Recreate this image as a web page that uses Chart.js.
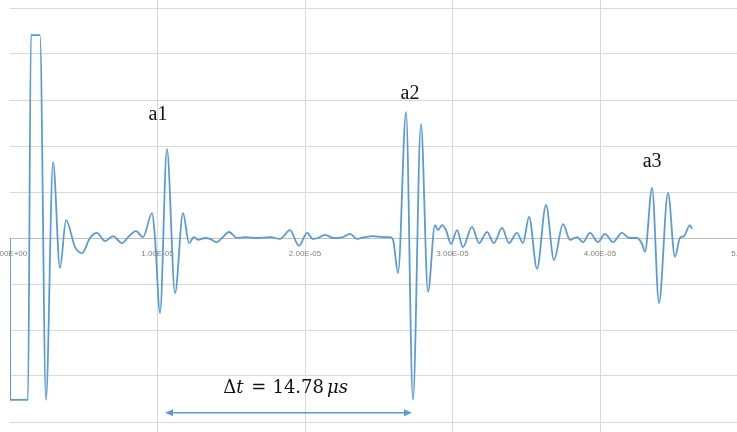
<!DOCTYPE html>
<html>
<head>
<meta charset="utf-8">
<script src="https://cdn.jsdelivr.net/npm/chart.js@4"></script>
<style>
  html, body { margin: 0; padding: 0; background: #ffffff; overflow: hidden; }
  #wrap { position: relative; width: 737px; height: 432px; overflow: hidden; background: #fff; }
  #c { position: absolute; left: -40px; top: -38px; }
</style>
</head>
<body>
<div id="wrap"><canvas id="c" width="985" height="506"></canvas></div>
<script>
// time in microseconds
const timeUs = [0,0.01,1.22,1.42,2.03,2.44,2.92,3.39,3.80,4.41,4.88,5.42,5.90,6.44,6.98,7.59,8.07,8.54,9.02,9.63,9.83,10.17,10.64,11.19,11.73,12.14,12.47,12.75,13.22,13.56,14.03,14.37,14.85,15.39,15.93,16.75,17.63,18.31,18.98,19.59,20.14,20.54,20.88,21.36,21.90,22.58,23.05,23.53,24.07,24.61,25.29,25.76,25.97,26.31,26.85,27.32,27.86,28.34,28.81,29.02,29.29,29.56,29.90,30.31,30.71,31.32,31.80,32.34,32.81,33.36,33.83,34.37,34.78,35.19,35.73,36.34,36.88,37.49,37.97,38.44,38.85,39.32,39.86,40.34,40.88,41.49,41.97,42.51,42.85,43.05,43.53,44.00,44.61,45.08,45.42,45.69,46.10,46.24];
const amplitude = [0,-3.52,-3.52,4.41,4.41,-3.52,1.65,-0.65,0.39,-0.20,-0.33,0,0.11,-0.07,0.04,-0.11,0.04,0.15,0.02,0.54,0,-1.63,1.93,-1.20,0.54,-0.11,0.02,-0.04,0,-0.02,-0.09,0,0.13,0,0.02,0,0.02,-0.02,0.17,-0.17,0.11,-0.02,0,0.07,0,0.02,0.09,-0.02,0.02,0.04,0.02,0.02,-0.04,-0.76,2.74,-3.52,2.48,-1.17,0.28,0.17,0.28,0.17,-0.13,0.17,-0.20,0.24,-0.11,0.13,-0.11,0.22,-0.11,0.11,-0.11,0.46,-0.67,0.72,-0.48,0.30,-0.04,0.02,-0.09,0.11,-0.09,0.09,-0.09,0.11,0,0,-0.13,-0.30,1.09,-1.41,0.98,-0.41,0,0.04,0.28,0.20];

const xTicks = [0,10,20,30,40,50,60];   // µs, shown as seconds
const echoLabels = ['a1','a2','a3'];
const echoLabelT = [10.03, 27.12, 43.53];
const echoLabelY = [2.57, 3.02, 1.54];
const arrowT = [10.51, 27.25];
const arrowY = -3.80;
const deltaText = '14.78';
const deltaT = 18.68;
const deltaY = -3.37;

function sci(vUs) {
  if (vUs === 0) return '0.00E+00';
  const v = vUs * 1e-6;
  let e = Math.floor(Math.log10(Math.abs(v)) + 1e-9);
  let m = v / Math.pow(10, e);
  const sign = e < 0 ? '-' : '+';
  const ae = Math.abs(e);
  return m.toFixed(2) + 'E' + sign + (ae < 10 ? '0' : '') + ae;
}

const annot = {
  id: 'annot',
  afterDatasetsDraw(chart) {
    const ctx = chart.ctx, xs = chart.scales.x, ys = chart.scales.y;
    ctx.save();
    // echo labels
    ctx.fillStyle = '#111';
    ctx.font = '20px "Liberation Serif", "Times New Roman", serif';
    ctx.textAlign = 'center';
    ctx.textBaseline = 'alphabetic';
    echoLabels.forEach((s, i) => {
      ctx.fillText(s, xs.getPixelForValue(echoLabelT[i]), ys.getPixelForValue(echoLabelY[i]));
    });
    // arrow
    const x1 = xs.getPixelForValue(arrowT[0]), x2 = xs.getPixelForValue(arrowT[1]);
    const ay = ys.getPixelForValue(arrowY);
    ctx.strokeStyle = '#5b9bd5'; ctx.fillStyle = '#5b9bd5'; ctx.lineWidth = 1.5;
    ctx.beginPath(); ctx.moveTo(x1 + 4, ay); ctx.lineTo(x2 - 4, ay); ctx.stroke();
    ctx.beginPath(); ctx.moveTo(x1, ay); ctx.lineTo(x1 + 8, ay - 3.5); ctx.lineTo(x1 + 8, ay + 3.5); ctx.closePath(); ctx.fill();
    ctx.beginPath(); ctx.moveTo(x2, ay); ctx.lineTo(x2 - 8, ay - 3.5); ctx.lineTo(x2 - 8, ay + 3.5); ctx.closePath(); ctx.fill();
    // delta t text
    const fN = '18px "DejaVu Serif", serif', fI = 'italic 18px "DejaVu Serif", serif';
    const parts = [
      {s: '\u0394', f: fN, g: 0},
      {s: 't', f: fI, g: 0},
      {s: '=', f: fN, g: 8},
      {s: deltaText, f: fN, g: 6},
      {s: '\u03bcs', f: fI, g: 3}
    ];
    let total = 0;
    parts.forEach(p => { ctx.font = p.f; p.w = ctx.measureText(p.s).width; total += p.g + p.w; });
    let cx = xs.getPixelForValue(deltaT) - total / 2;
    const by = ys.getPixelForValue(deltaY);
    ctx.fillStyle = '#111';
    ctx.textAlign = 'left';
    parts.forEach(p => { cx += p.g; ctx.font = p.f; ctx.fillText(p.s, cx, by); cx += p.w; });
    ctx.restore();
  }
};

new Chart(document.getElementById('c'), {
  type: 'line',
  data: {
    datasets: [{
      data: timeUs.map((t, i) => ({x: t, y: amplitude[i]})),
      borderColor: '#5b9bd5',
      borderWidth: 1.8,
      pointRadius: 0,
      cubicInterpolationMode: 'monotone',
      fill: false
    }]
  },
  options: {
    responsive: false,
    devicePixelRatio: 1,
    animation: false,
    layout: { padding: { left: 50, right: 50, top: 0, bottom: 0 } },
    plugins: { legend: { display: false }, tooltip: { enabled: false } },
    scales: {
      x: {
        type: 'linear',
        position: { y: 0 },
        min: 0, max: 60,
        afterBuildTicks(scale) { scale.ticks = xTicks.map(v => ({value: v})); },
        ticks: {
          callback: (v) => sci(v),
          font: { size: 8, family: '"Liberation Sans", Arial, sans-serif' },
          color: '#808080',
          padding: 11,
          maxRotation: 0,
          autoSkip: false
        },
        grid: {
          drawTicks: false,
          color: (c) => (c.tick && c.tick.value === 0) ? 'rgba(0,0,0,0)' : '#d9d9d9',
          lineWidth: 1
        },
        border: { display: true, color: '#bfbfbf', width: 1 }
      },
      y: {
        type: 'linear',
        min: -5, max: 6,
        ticks: { display: false, stepSize: 1 },
        grid: {
          drawTicks: false,
          color: (c) => (c.tick && c.tick.value === 0) ? '#bfbfbf' : '#d9d9d9',
          lineWidth: 1
        },
        border: { display: false }
      }
    }
  },
  plugins: [annot]
});
</script>
</body>
</html>
